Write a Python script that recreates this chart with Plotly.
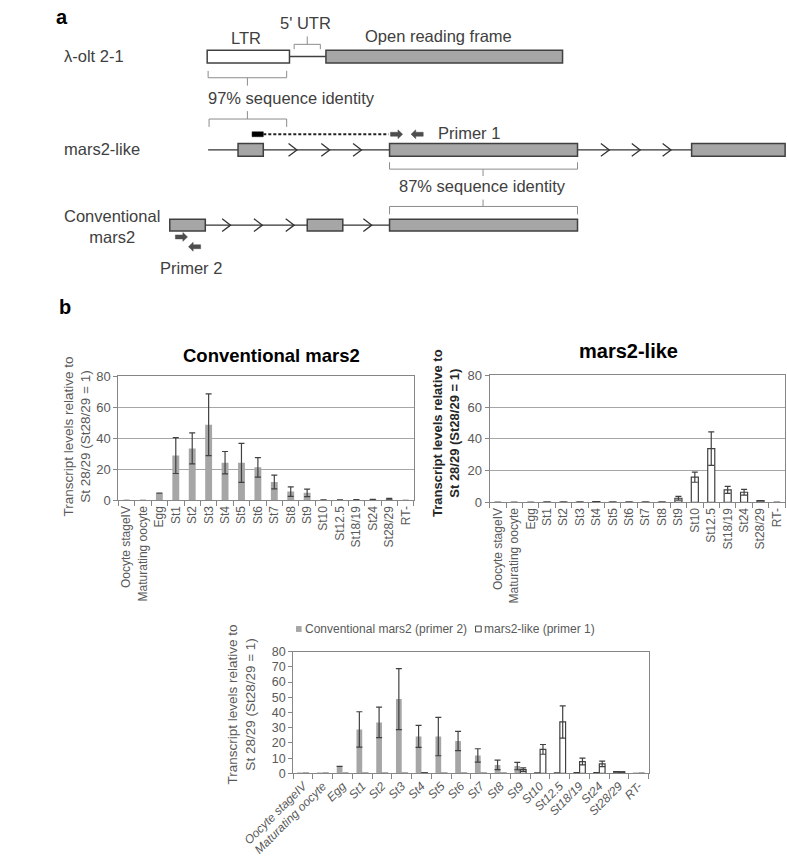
import plotly.graph_objects as go

# ---------------- data ----------------
categories = ["Oocyte stageIV", "Maturating oocyte", "Egg", "St1", "St2", "St3", "St4",
              "St5", "St6", "St7", "St8", "St9", "St10", "St12.5", "St18/19", "St24",
              "St28/29", "RT-"]
conv_mean = [0, 0, 4.6, 28.9, 33.5, 48.8, 24.3, 24.2, 21.3, 11.8, 5.6, 4.8,
             0.3, 0.3, 0.5, 0.6, 1.0, 0]
conv_err = [0, 0, 0, 11.6, 10.0, 20.0, 7.2, 12.6, 6.3, 4.4, 3.1, 2.4,
            0, 0, 0, 0, 0.2, 0]
like_mean = [0, 0, 0, 0.1, 0.1, 0.1, 0.4, 0.1, 0.1, 0.1, 0.1, 2.5,
             15.8, 33.8, 7.8, 6.3, 1.0, 0]
like_err = [0, 0, 0, 0, 0, 0, 0, 0, 0, 0, 0, 1.2,
            3.2, 10.6, 2.2, 1.8, 0.1, 0]
ticks_top = [0, 20, 40, 60, 80]
ticks_bottom = [0, 10, 20, 30, 40, 50, 60, 70, 80]

W, H = 787, 862
FONT = "Arial, Liberation Sans, sans-serif"
GRAY_BAR = "#a6a6a6"
DARK = "#404040"
TXT = "#595959"
AXC = "#868686"


def X(px):
    return px / W


def Y(py):
    return 1 - py / H


def P(points):
    s = ""
    for i, (px, py) in enumerate(points):
        s += ("M" if i == 0 else "L") + f"{X(px):.5f},{Y(py):.5f} "
    return s


fig = go.Figure()

err_style = dict(type="data", visible=True, color=DARK, thickness=1.2, width=3)

# chart 1 : conventional mars2
fig.add_trace(go.Bar(x=categories, y=conv_mean, xaxis="x", yaxis="y",
                     width=0.42, offset=-0.21,
                     marker=dict(color=GRAY_BAR, line=dict(width=0)),
                     error_y=dict(array=conv_err, **err_style),
                     name="Conventional mars2", showlegend=False))
# chart 2 : mars2-like
fig.add_trace(go.Bar(x=categories, y=like_mean, xaxis="x2", yaxis="y2",
                     width=0.43, offset=-0.215,
                     marker=dict(color="white", line=dict(width=1.2, color=DARK)),
                     error_y=dict(array=like_err, **err_style),
                     name="mars2-like", showlegend=False))
# chart 3 : combined
fig.add_trace(go.Bar(x=categories, y=conv_mean, xaxis="x3", yaxis="y3",
                     width=0.29, offset=-0.295,
                     marker=dict(color=GRAY_BAR, line=dict(width=0)),
                     error_y=dict(array=conv_err, **err_style),
                     name="Conventional mars2 (primer 2)", showlegend=False))
fig.add_trace(go.Bar(x=categories, y=like_mean, xaxis="x3", yaxis="y3",
                     width=0.29, offset=0.005,
                     marker=dict(color="white", line=dict(width=1.2, color=DARK)),
                     error_y=dict(array=like_err, **err_style),
                     name="mars2-like (primer 1)", showlegend=False))


def xax(dom, anchor, angle, italic=False, size=12):
    return dict(domain=dom, anchor=anchor, type="category", categoryorder="array",
                categoryarray=categories, tickangle=angle, tickson="boundaries",
                ticks="outside", ticklen=5, tickcolor=AXC, showline=True,
                linecolor=AXC, linewidth=1, mirror=True, showgrid=False,
                tickfont=dict(family=FONT, size=size, color=TXT,
                              style="italic" if italic else "normal"),
                fixedrange=True)


def yax(dom, anchor, tv, grid, size=13):
    return dict(domain=dom, anchor=anchor, range=[0, 80], tickvals=tv,
                showgrid=grid, gridcolor="#a6a6a6", gridwidth=1, zeroline=False,
                ticks="outside", ticklen=4, tickcolor=AXC, showline=True,
                linecolor=AXC, linewidth=1, mirror=True,
                tickfont=dict(family=FONT, size=size, color=TXT), fixedrange=True)


fig.update_layout(
    width=W, height=H, margin=dict(l=0, r=0, t=0, b=0),
    paper_bgcolor="white", plot_bgcolor="white", barmode="overlay",
    showlegend=False,
    xaxis=xax([X(72), X(388)], "y", -90),
    yaxis=yax([Y(502), Y(376)], "x", ticks_top, True),
    xaxis2=xax([X(469), X(785)], "y2", -90),
    yaxis2=yax([Y(504), Y(375)], "x2", ticks_top, True),
    xaxis3=xax([X(259), X(639)], "y3", -45, italic=True, size=12),
    yaxis3=yax([Y(780), Y(656)], "x3", ticks_bottom, False, size=12.5),
)

# ---------------- panel a diagram ----------------
shapes = []
BOX_LINE = dict(color=DARK, width=1.5)
BR = dict(color="#8c8c8c", width=1)
LN = dict(color="#333333", width=1.3)


def rect(x0, x1, y0, y1, fill, line=BOX_LINE):
    shapes.append(dict(type="rect", xref="paper", yref="paper", x0=X(x0), x1=X(x1),
                       y0=Y(y1), y1=Y(y0), fillcolor=fill, line=line, layer="above"))


def hline(x0, x1, y, line=LN, dash=None):
    ln = dict(line)
    if dash:
        ln["dash"] = dash
    shapes.append(dict(type="line", xref="paper", yref="paper", x0=X(x0), x1=X(x1),
                       y0=Y(y), y1=Y(y), line=ln, layer="above"))


def path(pts, line, fill=None):
    d = dict(type="path", xref="paper", yref="paper", path=P(pts) + ("Z" if fill else ""),
             line=line, layer="above")
    if fill:
        d["fillcolor"] = fill
    shapes.append(d)


def chevron(tip, y):
    path([(tip - 9, y - 6.5), (tip, y), (tip - 9, y + 6.5)], dict(color="#333333", width=1.3))


def arrow(x0, x1, y):
    d = 1 if x1 > x0 else -1
    hx = x1 - d * 5
    path([(x0, y - 2), (hx, y - 2), (hx, y - 4.5), (x1, y), (hx, y + 4.5),
          (hx, y + 2), (x0, y + 2)], dict(color="#4d4d4d", width=0.5), fill="#4d4d4d")


# row 1 : lambda-olt 2-1
hline(255, 294, 50.5, dict(color=DARK, width=1.5))
rect(167, 255, 44, 57, "white")
rect(294, 547, 44, 57, GRAY_BAR)
path([(260, 43), (260, 38), (288, 38), (288, 43)], BR)
path([(274, 38), (274, 30)], BR)
path([(168, 65), (168, 72), (252, 72), (252, 65)], BR)
path([(210, 72), (210, 80)], BR)
path([(210, 106), (210, 114)], BR)
path([(169, 122), (169, 114), (252, 114), (252, 122)], BR)

# row 2 : mars2-like
hline(168, 685, 145.5)
rect(200, 227, 139, 152, GRAY_BAR)
for t in (263, 298, 332, 597, 630, 663):
    chevron(t, 145.5)
rect(362, 563, 139, 152, GRAY_BAR)
rect(685, 785, 139, 152, GRAY_BAR)
rect(215, 227, 127, 132, "black", dict(color="black", width=0.5))
hline(227, 361, 129.5, dict(color="#222222", width=2), dash="3px,2px")
arrow(363, 376, 129.5)
arrow(398, 385, 129.5)
path([(362, 158), (362, 165), (563, 165), (563, 158)], BR)
path([(462, 165), (462, 172)], BR)
path([(462, 196), (462, 203)], BR)
path([(362, 211), (362, 203), (563, 203), (563, 211)], BR)

# row 3 : conventional mars2
hline(165, 362, 222)
rect(127, 165, 216, 228, GRAY_BAR)
for t in (192, 226, 260, 343):
    chevron(t, 222)
rect(274, 312, 216, 228, GRAY_BAR)
rect(362, 563, 216, 228, GRAY_BAR)
arrow(133, 146, 234)
arrow(160, 147, 244)

# legend of chart 3 (drawn manually)
rect(262, 268, 630, 636, GRAY_BAR, dict(width=0))
rect(454, 460, 630, 636, "white", dict(color=DARK, width=1))

fig.update_layout(shapes=shapes)

# ---------------- texts ----------------
ann = []


def text(s, px, py, size=16.5, color="#404040", xa="left", bold=False, angle=0):
    ann.append(dict(text=(f"<b>{s}</b>" if bold else s), x=X(px), y=Y(py), xref="paper",
                    yref="paper", xanchor=xa, yanchor="middle", showarrow=False,
                    textangle=angle, font=dict(family=FONT, size=size, color=color)))


text("a", 3, 10, size=20, color="black", bold=True)
text("b", 6, 305, size=20, color="black", bold=True)
text("λ-olt 2-1", 12, 50)
text("LTR", 208, 32, xa="center")
text("5' UTR", 272, 16, xa="center")
text("Open reading frame", 414, 30, xa="center")
text("97% sequence identity", 166, 93)
text("mars2-like", 12, 145)
text("Primer 1", 412, 128)
text("87% sequence identity", 461, 182, xa="center")
text("Conventional<br>mars2", 12, 223)
text("Primer 2", 114, 266)

text("Conventional mars2", 236, 355, size=18.5, color="black", xa="center", bold=True)
text("mars2-like", 618, 350, size=20, color="black", xa="center", bold=True)

ytitle = "Transcript levels relative to<br>St 28/29 (St28/29 = 1)"
text(ytitle, 28, 437, size=13.5, color=TXT, xa="center", angle=-90)
text(ytitle, 423, 434, size=13, color="#262626", xa="center", angle=-90, bold=True)
text(ytitle, 204, 710, size=13.5, color=TXT, xa="center", angle=-90)

text("Conventional mars2 (primer 2)", 269, 633, size=12, color=TXT)
text("mars2-like (primer 1)", 461, 633, size=12, color=TXT)

fig.update_layout(annotations=ann)

fig.write_html("out.html",
               config={"displayModeBar": False, "staticPlot": True},
               post_script="document.body.style.margin='0px';"
                           "document.body.style.padding='0px';")
